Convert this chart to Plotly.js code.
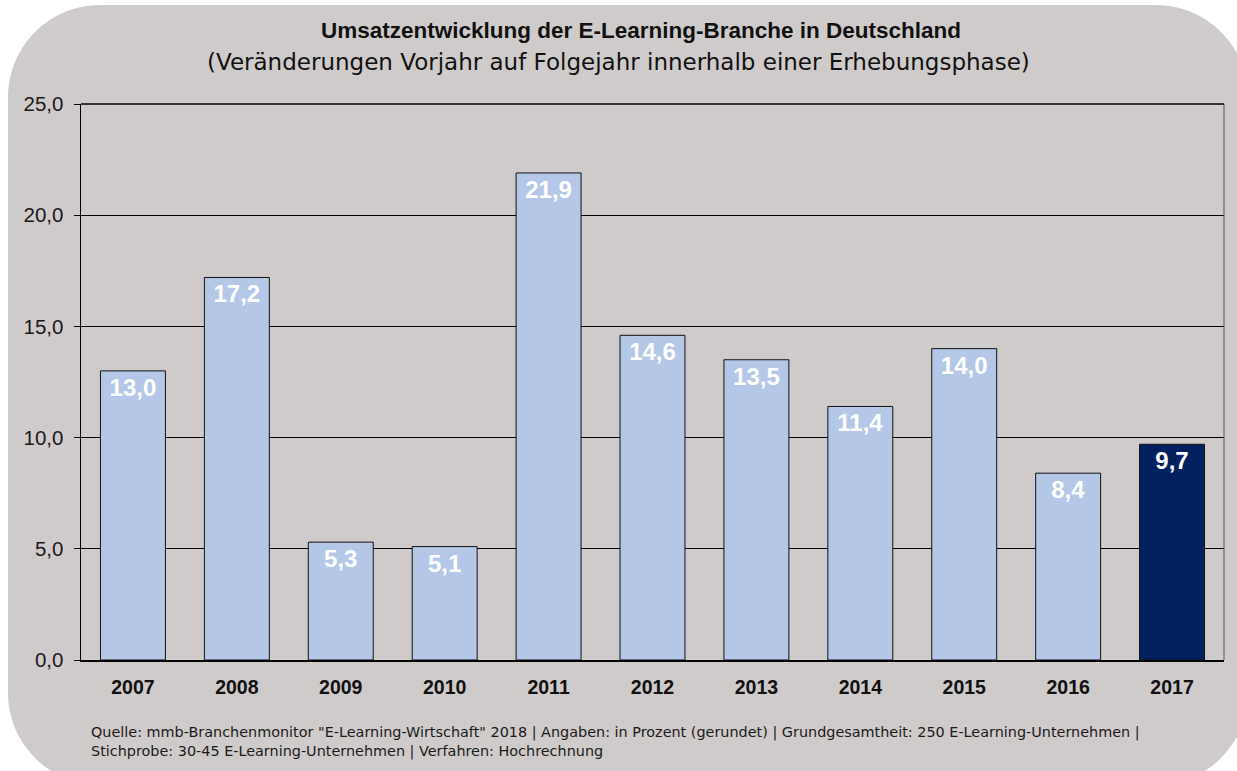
<!DOCTYPE html>
<html>
<head>
<meta charset="utf-8">
<script src="https://cdn.plot.ly/plotly-3.0.1.min.js"></script>
<style>
  html, body { margin: 0; padding: 0; background: #ffffff; }
  #wrap { position: relative; width: 1237px; height: 771px; overflow: hidden; }
  #bg { position: absolute; left: 8px; top: 5px; width: 1240px; height: 780px; border-radius: 92px; background: #d0cbcb; }
  #chart { position: absolute; left: 0; top: 0; width: 1237px; height: 771px; }
</style>
</head>
<body>
<div id="wrap">
  <div id="bg"></div>
  <div id="chart"></div>
</div>
<script>
const years = ['2007','2008','2009','2010','2011','2012','2013','2014','2015','2016','2017'];
const values = [13.0, 17.2, 5.3, 5.1, 21.9, 14.6, 13.5, 11.4, 14.0, 8.4, 9.7];
const yTicks = [0, 5, 10, 15, 20, 25];
const titleText = '<b>Umsatzentwicklung der E-Learning-Branche in Deutschland</b>';
const subtitleText = '(Veränderungen Vorjahr auf Folgejahr innerhalb einer Erhebungsphase)';
const sourceLines = [
  'Quelle: mmb-Branchenmonitor "E-Learning-Wirtschaft" 2018 | Angaben: in Prozent (gerundet) | Grundgesamtheit: 250 E-Learning-Unternehmen |',
  'Stichprobe: 30-45 E-Learning-Unternehmen | Verfahren: Hochrechnung'
];
const highlightYear = '2017';

const colors = years.map(y => y === highlightYear ? '#002060' : '#b4c7e7');

const trace = {
  type: 'bar',
  x: years,
  y: values,
  marker: { color: colors, line: { color: '#111111', width: 1 } },
  texttemplate: '%{y:.1f}',
  textposition: 'inside',
  insidetextanchor: 'end',
  textangle: 0,
  textfont: { family: 'Liberation Sans, Arial, sans-serif', size: 24, color: '#ffffff', weight: 'bold' },
  hoverinfo: 'skip',
  cliponaxis: false
};

const layout = {
  width: 1237,
  height: 771,
  paper_bgcolor: 'rgba(0,0,0,0)',
  plot_bgcolor: 'rgba(0,0,0,0)',
  separators: ',.',
  margin: { l: 81, r: 13, t: 104, b: 111 },
  bargap: 0.375,
  showlegend: false,
  font: { family: 'Liberation Sans, Arial, sans-serif', color: '#1a1a1a' },
  title: {
    text: titleText,
    font: { family: 'Liberation Sans, Arial, sans-serif', size: 22.5, color: '#111111' },
    x: 0.49, xanchor: 'center', xref: 'paper',
    y: 0.961, yanchor: 'middle', yref: 'container'
  },
  xaxis: {
    type: 'category',
    showgrid: false,
    showline: true, linecolor: '#000000', linewidth: 1.5,
    ticks: '',
    tickfont: { size: 19.5, color: '#111111', weight: 'bold' },
    ticklabelstandoff: 9,
    fixedrange: true
  },
  yaxis: {
    range: [0, 25],
    tickvals: yTicks,
    tickformat: '.1f',
    showgrid: true, gridcolor: '#000000', gridwidth: 1,
    showline: true, linecolor: '#000000', linewidth: 1.5,
    ticks: 'outside', ticklen: 6, tickcolor: '#000000', tickwidth: 1,
    tickfont: { size: 20.5, color: '#1a1a1a' },
    ticklabelstandoff: 6,
    zeroline: false,
    fixedrange: true
  },
  shapes: [
    { type: 'line', xref: 'paper', yref: 'paper', x0: 1, x1: 1, y0: 0, y1: 1, line: { color: '#555555', width: 1 } },
    { type: 'line', xref: 'paper', yref: 'paper', x0: 0, x1: 1, y0: 1, y1: 1, line: { color: '#000000', width: 1.5 } }
  ],
  annotations: [
    {
      text: subtitleText, xref: 'paper', yref: 'paper', x: 0.47, y: 1, xanchor: 'center', yanchor: 'bottom',
      yshift: 27, showarrow: false,
      font: { family: 'DejaVu Sans, sans-serif', size: 23, color: '#111111' }
    },
    {
      text: sourceLines.join('<br>'), xref: 'paper', yref: 'paper', x: 0, y: 0, xanchor: 'left', yanchor: 'top',
      xshift: 8, yshift: -62, align: 'left', showarrow: false,
      font: { family: 'DejaVu Sans, sans-serif', size: 14.4, color: '#1a1a1a' }
    }
  ]
};

Plotly.newPlot('chart', [trace], layout, { displayModeBar: false, staticPlot: true });
</script>
</body>
</html>
